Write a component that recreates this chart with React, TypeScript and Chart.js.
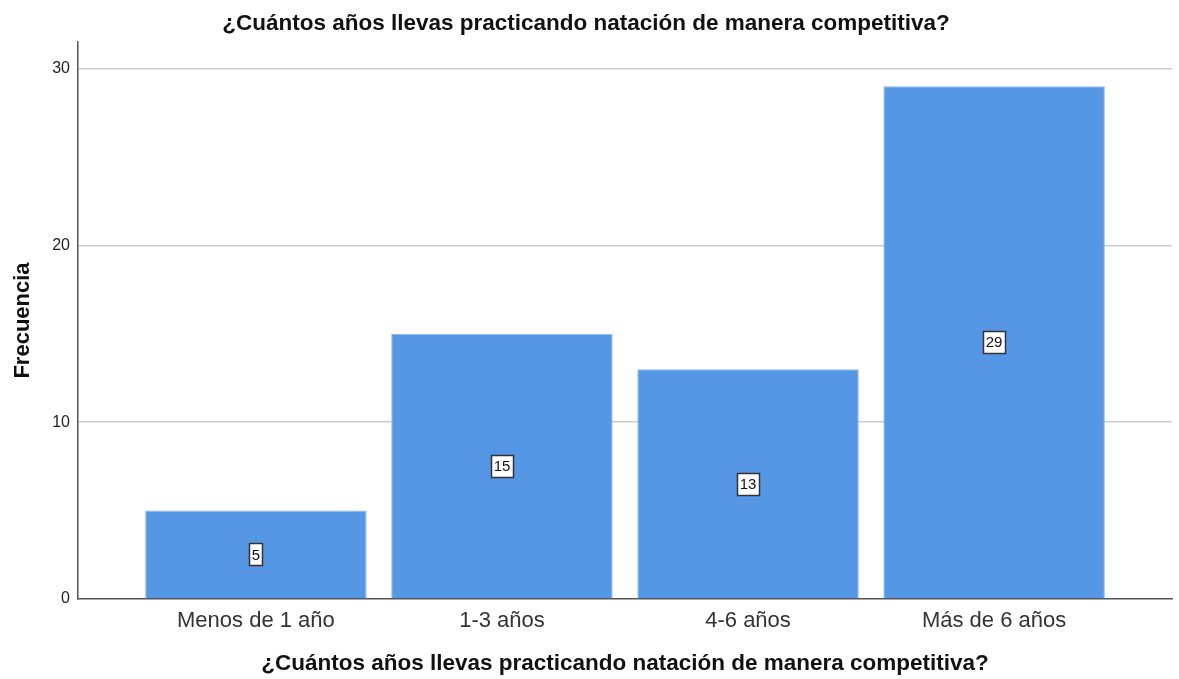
import React, { useEffect, useRef } from "react";
import { Chart, registerables } from "chart.js";

Chart.register(...registerables);

const categories = ["Menos de 1 año", "1-3 años", "4-6 años", "Más de 6 años"];
const frequencies = [5, 15, 13, 29];
const yTicks = [0, 10, 20, 30];
const chartTitle = "¿Cuántos años llevas practicando natación de manera competitiva?";
const xTitle = "¿Cuántos años llevas practicando natación de manera competitiva?";
const yTitle = "Frecuencia";

const FONT = "'Liberation Sans', Arial, sans-serif";

const valueLabelPlugin = {
  id: "valueLabels",
  afterDatasetsDraw(chart: any) {
    const ctx = chart.ctx;
    const meta = chart.getDatasetMeta(0);
    ctx.save();
    ctx.font = `15px ${FONT}`;
    ctx.textAlign = "center";
    ctx.textBaseline = "middle";
    meta.data.forEach((bar: any, i: number) => {
      const text = String(frequencies[i]);
      const cx = bar.x;
      const cy = (bar.y + bar.base) / 2;
      const w = Math.round(ctx.measureText(text).width + 5);
      const h = 22;
      const x0 = Math.round(cx - w / 2) + 0.5;
      const y0 = Math.round(cy - h / 2) + 0.5;
      ctx.fillStyle = "#ffffff";
      ctx.fillRect(x0, y0, w, h);
      ctx.strokeStyle = "#333333";
      ctx.lineWidth = 1.5;
      ctx.strokeRect(x0, y0, w, h);
      ctx.fillStyle = "#111111";
      ctx.fillText(text, cx, cy + 1);
    });
    ctx.restore();
  },
};

export default function App() {
  const ref = useRef<HTMLCanvasElement | null>(null);

  useEffect(() => {
    if (!ref.current) return;
    const chart = new Chart(ref.current, {
      type: "bar",
      data: {
        datasets: [
          {
            data: frequencies.map((v, i) => ({ x: i, y: v })),
            backgroundColor: "rgb(85,150,229)",
            borderColor: "rgb(140,185,240)",
            borderWidth: 1,
            barPercentage: 0.9,
            categoryPercentage: 1.0,
          },
        ],
      },
      options: {
        animation: false,
        responsive: false,
        maintainAspectRatio: false,
        layout: { padding: { top: 0, right: 7, bottom: 0, left: 0 } },
        plugins: {
          legend: { display: false },
          tooltip: { enabled: false },
          title: {
            display: true,
            text: chartTitle,
            color: "#111",
            font: { family: FONT, size: 22.5, weight: "bold" },
            padding: { top: 10, bottom: 5 },
          },
        },
        scales: {
          x: {
            type: "linear",
            offset: false,
            min: -0.723,
            max: 3.723,
            afterBuildTicks(scale: any) {
              scale.ticks = categories.map((_, i) => ({ value: i }));
            },
            afterFit(scale: any) {
              scale.height = 80;
            },
            grid: { display: false, drawTicks: false },
            border: { display: true, color: "#555", width: 1.5 },
            ticks: {
              padding: 9,
              color: "#333",
              font: { family: FONT, size: 22 },
              autoSkip: false,
              maxRotation: 0,
              callback: (v: any) => categories[v] ?? "",
            },
            title: {
              display: true,
              text: xTitle,
              color: "#111",
              font: { family: FONT, size: 22.5, weight: "bold" },
              padding: { top: 4, bottom: 2 },
            },
          },
          y: {
            min: 0,
            max: 31.5,
            afterBuildTicks(scale: any) {
              scale.ticks = yTicks.map((v) => ({ value: v }));
            },
            afterFit(scale: any) {
              scale.width = 78;
            },
            grid: {
              drawTicks: false,
              color: (c: any) => (c.tick && c.tick.value > 0 ? "#cccccc" : "transparent"),
              lineWidth: 1.5,
            },
            border: { display: true, color: "#555", width: 1.5 },
            ticks: {
              padding: 8,
              color: "#222",
              font: { family: FONT, size: 16 },
            },
            title: {
              display: true,
              text: yTitle,
              color: "#111",
              font: { family: FONT, size: 22, weight: "bold" },
              padding: { top: 10, bottom: 4 },
            },
          },
        },
      },
      plugins: [valueLabelPlugin],
    });
    return () => chart.destroy();
  }, []);

  return (
    <div style={{ position: "fixed", left: 0, top: 0, width: 1179, height: 679, background: "#fff" }}>
      <canvas ref={ref} width={1179} height={679} style={{ width: 1179, height: 679 }} />
    </div>
  );
}
